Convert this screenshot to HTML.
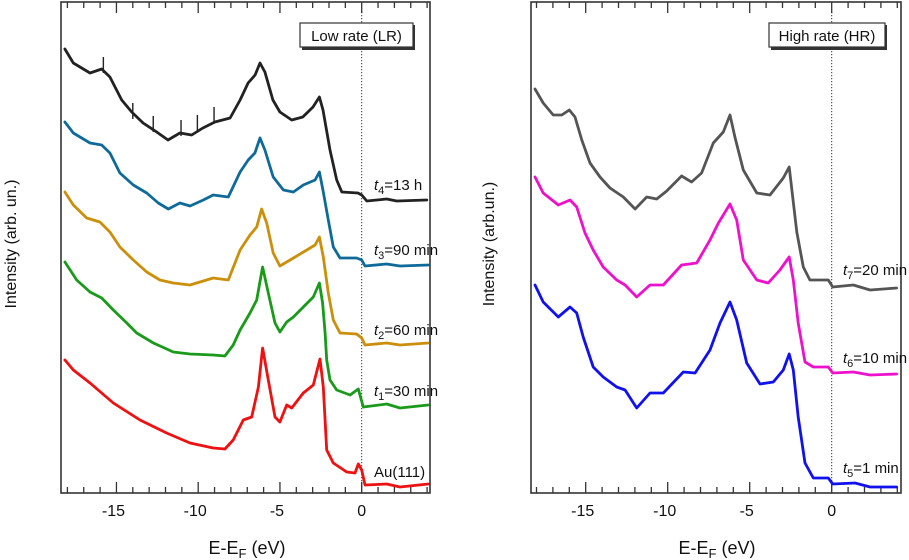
<!DOCTYPE html>
<html><head><meta charset="utf-8"><style>
body{margin:0;background:#fff;}
svg{display:block;font-family:"Liberation Sans",Arial,sans-serif;}
</style></head><body>
<svg id="chart" width="909" height="560" viewBox="0 0 909 560">
<g id="g"></g>
</svg>
<script>
// Left panel series (Energy in eV, intensity in arb. units)
const lrBlackE=[-18.15,-17.64,-16.62,-15.90,-15.40,-14.68,-14.07,-13.37,-12.54,-11.85,-11.12,-10.40,-9.71,-8.98,-8.05,-7.44,-6.95,-6.52,-6.22,-5.92,-5.43,-5.00,-4.28,-3.60,-2.98,-2.59,-2.37,-1.94,-1.53,-1.22,-0.23,0,0.31,1.53,2.14,3.98];
const lrBlackI=[444,430,420,424,416,393,381,370,361,353,360,358,365,371,375,393,410,418,430,421,393,381,373,376,386,396,383,343,313,301,300,298,292,294,292,293];
const lrBlueE=[-18.15,-17.64,-16.62,-15.90,-15.40,-14.79,-13.97,-13.15,-12.44,-11.83,-11.12,-10.50,-9.69,-9.08,-8.16,-7.44,-6.94,-6.53,-6.22,-5.92,-5.41,-4.79,-4.18,-3.57,-2.85,-2.59,-2.35,-2.04,-1.74,-1.33,-0.31,0,0.20,1.53,2.34,4.07];
const lrBlueI=[371,360,350,348,340,320,308,300,290,284,290,287,293,298,296,321,333,340,355,343,316,303,301,308,313,321,301,273,246,235,235,233,227,229,227,228];
const lrOrangeE=[-18.15,-17.64,-16.82,-16.01,-15.40,-14.79,-13.97,-13.15,-12.34,-11.53,-10.50,-9.08,-8.16,-7.44,-6.83,-6.42,-6.12,-5.81,-5.41,-5.00,-4.18,-3.36,-2.85,-2.59,-2.35,-2.04,-1.74,-1.33,-0.31,0,0.20,1.53,2.34,4.07];
const lrOrangeI=[301,288,275,271,261,246,233,221,213,210,208,215,213,243,258,266,284,270,240,227,235,243,248,256,236,200,173,160,159,155,148,150,148,150];
const lrGreenE=[-18.15,-17.43,-16.62,-15.90,-15.19,-14.37,-13.76,-12.74,-11.52,-10.50,-9.08,-8.37,-7.86,-7.44,-6.83,-6.42,-6.06,-5.71,-5.30,-5.00,-4.59,-4.18,-3.57,-2.96,-2.59,-2.39,-2.24,-2.14,-1.94,-1.53,-0.71,-0.21,0.10,1.53,2.34,4.07];
const lrGreenI=[231,213,201,195,183,170,160,150,141,139,138,137,148,163,180,193,226,200,170,161,171,176,186,196,210,190,160,133,113,103,98,104,86,89,85,88];
const lrRedE=[-18.15,-17.64,-16.62,-15.19,-13.56,-11.93,-10.50,-9.08,-8.37,-7.86,-7.24,-6.73,-6.32,-6.06,-5.71,-5.30,-5.00,-4.59,-4.28,-3.57,-2.96,-2.55,-2.35,-2.14,-1.74,-0.92,-0.41,-0.21,0,0.20,1.53,2.34,4.07];
const lrRedI=[133,123,110,90,73,60,50,45,44,53,73,76,106,145,113,76,71,88,85,100,108,134,106,43,30,21,20,29,23,8,9,6,9];
const markE=[-15.8,-14.0,-12.75,-11.05,-10.05,-9.03];
const markI=[436,390,377,373,378,386];
// Right panel series
const hrGrayE=[-18.09,-17.59,-16.98,-16.46,-16.00,-15.65,-15.24,-14.74,-14.13,-13.52,-12.71,-11.99,-11.28,-10.67,-10.06,-9.15,-8.54,-7.93,-7.22,-6.61,-6.20,-5.90,-5.39,-4.57,-3.76,-2.95,-2.59,-2.13,-1.73,-1.33,-0.21,0.06,1.32,2.34,3.96];
const hrGrayI=[404,390,378,378,383,376,353,330,316,305,296,284,296,294,302,317,311,320,350,361,378,356,323,300,298,315,326,261,226,213,213,206,208,203,205];
const hrMagE=[-18.09,-17.59,-16.67,-15.96,-15.55,-15.04,-14.54,-13.93,-13.11,-12.60,-11.89,-11.08,-10.27,-9.15,-8.23,-7.42,-6.91,-6.20,-5.79,-5.39,-4.57,-3.87,-3.16,-2.59,-2.34,-2.04,-1.63,-1.12,-0.21,0.06,1.32,2.34,3.96];
const hrMagI=[316,300,288,293,286,260,243,226,213,208,196,208,208,228,230,253,270,289,273,233,213,210,223,236,213,170,131,126,126,120,121,118,119];
const hrBlueE=[-18.09,-17.59,-16.67,-15.96,-15.55,-15.15,-14.54,-13.93,-13.11,-12.60,-11.89,-11.08,-10.27,-9.05,-8.33,-7.42,-6.81,-6.20,-5.79,-5.18,-4.37,-3.56,-2.95,-2.59,-2.34,-2.04,-1.63,-1.12,-0.21,0.06,1.42,2.34,3.96];
const hrBlueI=[208,191,176,186,180,156,126,116,106,103,85,100,100,121,120,143,170,191,173,130,109,111,123,139,123,76,30,15,15,9,10,6,6];
const tickVals=[-15,-10,-5,0];
const tickLabels=["-15","-10","-5","0"];

const NS="http://www.w3.org/2000/svg";
const root=document.getElementById('g');
function el(tag,attrs,parent,text){const e=document.createElementNS(NS,tag);for(const k in attrs)e.setAttribute(k,attrs[k]);if(text!==undefined)e.textContent=text;(parent||root).appendChild(e);return e;}
const yBase=493;
function yS(i){return yBase-i;}
function makePanel(p){
  const xS=e=>p.x0+p.k*e;
  const g=el('g',{});
  
  
  const zl=el('line',{x1:xS(0),x2:xS(0),y1:12,y2:yBase,stroke:'#333','stroke-width':1,'stroke-dasharray':'1.2,1.8'},g);
  
  
  const fr=el('rect',{x:p.left,y:2,width:p.right-p.left,height:yBase-2,fill:'none',stroke:'#333','stroke-width':1.6},g);
  
  
  for(let e=-18;e<=4;e++){
    const x=xS(e); const major=(e%5===0);
    const L=major?11:6;
    el('line',{x1:x,x2:x,y1:yBase,y2:yBase-L,stroke:'#333','stroke-width':1.3},g);
    el('line',{x1:x,x2:x,y1:2,y2:2+L,stroke:'#333','stroke-width':1.3},g);
  }
  tickVals.forEach((v,i)=>{
    const t=el('text',{x:xS(v)+(v<0?-3:0),y:516,'font-size':16,'text-anchor':'middle',fill:'#111'},g,tickLabels[i]);
    
    
  });
  const xt=el('text',{x:p.xtitle,y:554,'font-size':18,'text-anchor':'middle',fill:'#111'},g);
  
  
  xt.innerHTML='E-E<tspan font-size="13" dy="4">F</tspan><tspan dy="-4"> (eV)</tspan>';
  const yt=el('text',{x:0,y:0,'font-size':16,'text-anchor':'middle',fill:'#111',transform:`translate(${p.ytx},244) rotate(-90)`},g,p.ytitle);
  
  
  const bx=el('g',{},g);
  
  
  el('rect',{x:p.bx+2,y:25,width:p.bw,height:25,fill:'#333'},bx);
  el('rect',{x:p.bx,y:23,width:p.bw,height:24,fill:'#fff',stroke:'#333','stroke-width':1.2},bx);
  el('text',{x:p.bx+p.bw/2,y:41,'font-size':15,'text-anchor':'middle',fill:'#111'},bx,p.title);
  p.series.forEach(s=>{
    const pts=s.E.map((e,i)=>xS(e).toFixed(1)+','+yS(s.I[i]).toFixed(1)).join(' ');
    const pl=el('polyline',{points:pts,fill:'none',stroke:s.c,'stroke-width':2.8,'stroke-linejoin':'round','stroke-linecap':'round'},g);
    
    
    const lb=el('text',{x:p.lx,y:s.ly,'font-size':15,fill:'#111'},g);
    
    
    if(s.sub){lb.innerHTML=`<tspan font-style="italic">t</tspan><tspan font-size="11" dy="4">${s.sub}</tspan><tspan dy="-4">${s.rest}</tspan>`;}
    else lb.textContent=s.rest;
  });
  return xS;
}
const xL=makePanel({name:'low-rate-panel',x0:361.7,k:16.35,left:61,right:430,xtitle:247,ytx:16,ytitle:'Intensity (arb. un.)',bx:300,bw:113,title:'Low rate (LR)',lx:374,
 series:[
  {name:'t4-13h-curve',E:lrBlackE,I:lrBlackI,c:'#222',ly:190,sub:'4',rest:'=13 h'},
  {name:'t3-90min-curve',E:lrBlueE,I:lrBlueI,c:'#0f6a9a',ly:255,sub:'3',rest:'=90 min'},
  {name:'t2-60min-curve',E:lrOrangeE,I:lrOrangeI,c:'#cc8f0c',ly:335,sub:'2',rest:'=60 min'},
  {name:'t1-30min-curve',E:lrGreenE,I:lrGreenI,c:'#1a9a1a',ly:396,sub:'1',rest:'=30 min'},
  {name:'au111-curve',E:lrRedE,I:lrRedI,c:'#ee1111',ly:477,rest:'Au(111)'}
 ]});
markE.forEach((e,i)=>{
  const m=el('line',{x1:xL(e),x2:xL(e),y1:yS(markI[i]),y2:yS(markI[i])+16,stroke:'#222','stroke-width':1.4});
  
  
});
makePanel({name:'high-rate-panel',x0:831.7,k:16.4,left:531,right:901,xtitle:717,ytx:494,ytitle:'Intensity (arb.un.)',bx:769,bw:116,title:'High rate (HR)',lx:843,
 series:[
  {name:'t7-20min-curve',E:hrGrayE,I:hrGrayI,c:'#555',ly:275,sub:'7',rest:'=20 min'},
  {name:'t6-10min-curve',E:hrMagE,I:hrMagI,c:'#ee11cc',ly:363,sub:'6',rest:'=10 min'},
  {name:'t5-1min-curve',E:hrBlueE,I:hrBlueI,c:'#1111ee',ly:473,sub:'5',rest:'=1 min'}
 ]});
</script>
</body></html>
